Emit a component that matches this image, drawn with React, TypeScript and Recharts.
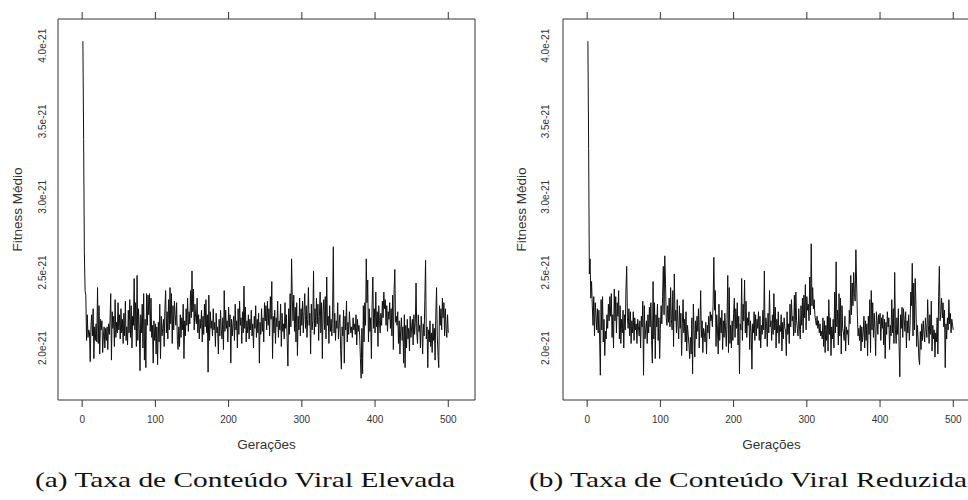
import { LineChart, Line, XAxis, YAxis, ReferenceLine } from "recharts";

// fitness médio por geração, em unidades de 1e-23
const fitElevada = [
  403, 338, 263, 238, 235, 205, 222, 207, 212, 210,
  191, 215, 222, 208, 226, 193, 214, 205, 216, 204,
  240, 203, 228, 196, 219, 212, 218, 197, 208, 214,
  200, 213, 205, 214, 199, 216, 209, 218, 236, 192,
  224, 213, 221, 201, 232, 207, 217, 210, 230, 212,
  222, 206, 226, 210, 219, 203, 223, 208, 231, 205,
  214, 202, 225, 210, 232, 207, 228, 200, 221, 215,
  246, 212, 230, 201, 248, 205, 226, 213, 185, 222,
  210, 229, 200, 236, 192, 219, 187, 236, 215, 235,
  222, 236, 211, 233, 207, 215, 190, 218, 205, 216,
  196, 214, 189, 217, 204, 229, 193, 221, 208, 213,
  219, 201, 226, 238, 210, 224, 206, 232, 212, 240,
  216, 236, 203, 228, 212, 231, 222, 215, 230, 205,
  199, 214, 201, 222, 207, 220, 212, 229, 193, 218,
  208, 226, 215, 233, 211, 224, 216, 238, 220, 251,
  224, 239, 212, 229, 220, 216, 233, 210, 222, 206,
  219, 213, 225, 204, 221, 209, 229, 214, 232, 210,
  222, 184, 235, 205, 224, 213, 218, 208, 226, 212,
  217, 201, 223, 210, 214, 196, 219, 208, 225, 212,
  206, 220, 199, 238, 211, 225, 213, 218, 204, 227,
  214, 222, 190, 219, 208, 216, 221, 205, 229, 212,
  218, 200, 226, 209, 231, 215, 220, 203, 224, 210,
  241, 213, 227, 204, 218, 210, 222, 206, 219, 212,
  225, 208, 216, 200, 221, 213, 228, 207, 219, 210,
  223, 190, 217, 209, 226, 211, 220, 204, 230, 218,
  228, 212, 231, 215, 226, 208, 234, 219, 244, 193,
  221, 210, 225, 203, 220, 214, 231, 207, 218, 212,
  229, 201, 223, 211, 216, 206, 230, 213, 222, 205,
  188, 226, 209, 236, 214, 259, 232, 218, 235, 211,
  227, 204, 230, 195, 221, 212, 233, 208, 226, 215,
  231, 210, 224, 236, 213, 228, 207, 219, 240, 215,
  223, 196, 229, 212, 218, 251, 209, 226, 214, 233,
  216, 229, 205, 221, 237, 210, 230, 193, 224, 232,
  212, 234, 206, 247, 215, 221, 203, 228, 211, 219,
  208, 225, 267, 210, 223, 205, 218, 213, 230, 206,
  216, 222, 199, 186, 214, 208, 225, 190, 221, 212,
  231, 204, 217, 209, 224, 215, 210, 214, 207, 220,
  212, 216, 209, 222, 202, 219, 211, 215, 208, 193,
  180, 213, 183, 228, 204, 230, 215, 259, 230, 245,
  204, 226, 211, 220, 193, 229, 247, 213, 226, 210,
  237, 214, 224, 201, 228, 218, 210, 223, 215, 231,
  220, 237, 226, 232, 215, 228, 211, 224, 219, 230,
  213, 226, 208, 235, 199, 238, 252, 217, 221, 215,
  224, 203, 218, 196, 212, 220, 205, 214, 190, 222,
  187, 215, 200, 219, 206, 213, 198, 221, 207, 214,
  219, 202, 222, 209, 217, 243, 210, 203, 222, 211,
  215, 200, 221, 213, 196, 216, 208, 232, 258, 206,
  214, 187, 212, 204, 218, 201, 210, 197, 216, 205,
  213, 192, 222, 240, 208, 195, 187, 228, 215, 226,
  212, 233, 220, 230, 208, 226, 213, 207, 222, 210,
];

const fitReduzida = [
  403, 332, 249, 259, 233, 244, 228, 215, 234, 208,
  230, 222, 212, 226, 210, 225, 206, 182, 232, 212,
  234, 204, 219, 195, 211, 206, 222, 213, 229, 218,
  234, 221, 236, 207, 222, 200, 239, 218, 234, 210,
  230, 221, 238, 206, 228, 203, 219, 210, 225, 200,
  222, 212, 239, 254, 220, 213, 226, 208, 224, 203,
  218, 210, 224, 205, 220, 212, 216, 203, 219, 214,
  208, 218, 200, 221, 214, 231, 182, 228, 206, 212,
  218, 203, 222, 210, 227, 214, 230, 205, 190, 244,
  206, 230, 193, 222, 214, 229, 205, 220, 193, 213,
  228, 216, 234, 254, 222, 261, 243, 220, 215, 228,
  217, 233, 214, 240, 219, 212, 238, 201, 249, 218,
  225, 210, 232, 215, 206, 228, 213, 223, 195, 216,
  232, 210, 219, 204, 224, 198, 215, 209, 202, 193,
  207, 196, 220, 183, 229, 212, 194, 218, 206, 221,
  211, 226, 200, 215, 238, 207, 218, 197, 213, 210,
  204, 217, 196, 215, 210, 221, 206, 224, 218, 222,
  214, 229, 260, 225, 238, 201, 222, 212, 196, 229,
  205, 220, 210, 225, 199, 218, 207, 223, 212, 201,
  219, 248, 197, 240, 203, 215, 200, 218, 205, 223,
  233, 207, 226, 213, 230, 202, 221, 183, 216, 212,
  246, 205, 229, 218, 245, 210, 231, 207, 220, 215,
  224, 199, 218, 211, 186, 216, 210, 224, 205, 222,
  208, 219, 213, 224, 205, 221, 200, 215, 209, 225,
  212, 251, 206, 220, 216, 201, 223, 210, 238, 214,
  218, 205, 222, 209, 236, 212, 227, 200, 219, 210,
  224, 203, 215, 211, 222, 198, 217, 206, 220, 213,
  212, 195, 224, 209, 216, 203, 229, 214, 232, 218,
  221, 208, 235, 210, 237, 218, 213, 208, 226, 214,
  206, 228, 215, 233, 210, 235, 220, 242, 212, 234,
  225, 229, 218, 247, 222, 269, 228, 240, 226, 232,
  222, 218, 215, 221, 213, 218, 210, 216, 208, 211,
  206, 220, 201, 218, 197, 215, 205, 221, 198, 232,
  209, 220, 195, 214, 206, 219, 200, 237, 210, 257,
  214, 225, 202, 236, 208, 233, 196, 228, 213, 210,
  205, 221, 198, 214, 209, 212, 202, 225, 216, 248,
  222, 243, 228, 250, 236, 231, 265, 243, 222, 208,
  213, 205, 215, 198, 214, 204, 210, 221, 200, 218,
  205, 216, 195, 221, 209, 232, 197, 238, 212, 230,
  207, 223, 213, 195, 224, 218, 209, 222, 216, 223,
  205, 220, 213, 222, 202, 219, 193, 217, 209, 224,
  214, 220, 199, 215, 208, 232, 210, 226, 203, 250,
  212, 203, 220, 209, 226, 201, 181, 222, 213, 227,
  207, 226, 219, 211, 224, 200, 218, 210, 222, 205,
  215, 237, 228, 256, 208, 243, 212, 246, 229, 201,
  215, 206, 193, 189, 211, 199, 216, 205, 218, 210,
  204, 220, 212, 207, 232, 215, 203, 222, 209, 231,
  198, 215, 206, 212, 194, 210, 204, 220, 196, 234,
  254, 218, 224, 233, 220, 230, 214, 225, 187, 216,
  206, 220, 212, 232, 216, 223, 210, 219, 215, 212,
];

const xTicks = [0, 100, 200, 300, 400, 500];
const yTicks = [2.0, 2.5, 3.0, 3.5, 4.0];
const xDomain = [-33, 536.5];
const yDomain = [1.656, 4.177];

const captions = [
  "(a) Taxa de Conteúdo Viral Elevada",
  "(b) Taxa de Conteúdo Viral Reduzida",
];

const toRows = (vals: number[]) => vals.map((v, i) => ({ gen: i + 1, fit: v / 100 }));

const sans = "'Liberation Sans', Arial, sans-serif";
const boxColor = "#333";

function YTick(props: any) {
  const { x, y, payload, gap } = props;
  const tx = x - gap;
  return (
    <text
      x={tx}
      y={y}
      transform={`rotate(-90, ${tx}, ${y})`}
      textAnchor="middle"
      dominantBaseline="central"
      fontSize={10}
      fontFamily={sans}
      fill="#333"
    >
      {`${payload.value.toFixed(1)}e-21`}
    </text>
  );
}

function Panel({ vals, yAxisW, labelGap, titleX, rightEdge }: { vals: number[]; yAxisW: number; labelGap: number; titleX: number; rightEdge: boolean }) {
  const data = toRows(vals);
  return (
    <LineChart width={yAxisW + 417 + 9} height={460} data={data} margin={{ top: 12, right: 9, bottom: 0, left: 0 }}>
      <XAxis
        xAxisId="top"
        orientation="top"
        dataKey="gen"
        type="number"
        domain={xDomain}
        ticks={xTicks}
        height={7}
        tickSize={7}
        axisLine={false}
        tickLine={{ stroke: boxColor }}
        tick={() => <g />}
      />
      <XAxis
        dataKey="gen"
        type="number"
        domain={xDomain}
        ticks={xTicks}
        height={60}
        tickSize={7}
        tickMargin={9}
        axisLine={false}
        tickLine={{ stroke: boxColor }}
        tick={{ fontSize: 10, fontFamily: sans, fill: "#333" }}
        label={{ value: "Gerações", position: "insideBottom", offset: 11, fontSize: 13.5, fontFamily: sans, fill: "#333" }}
      />
      <YAxis
        type="number"
        domain={yDomain}
        ticks={yTicks}
        width={yAxisW}
        tickSize={0}
        tickMargin={0}
        axisLine={false}
        tickLine={false}
        tick={(p: any) => <YTick {...p} gap={labelGap} />}
        label={{
          value: "Fitness Médio",
          angle: -90,
          position: "insideLeft",
          offset: titleX,
          style: { textAnchor: "middle" },
          fontSize: 13.5,
          fontFamily: sans,
          fill: "#333",
        }}
      />
      <ReferenceLine y={yDomain[1]} stroke={boxColor} />
      <ReferenceLine y={yDomain[0]} stroke={boxColor} />
      <ReferenceLine x={xDomain[0]} stroke={boxColor} />
      {rightEdge && <ReferenceLine x={xDomain[1]} stroke={boxColor} />}
      <Line type="linear" dataKey="fit" stroke="#111" strokeWidth={1} dot={false} isAnimationActive={false} />
    </LineChart>
  );
}

export default function App() {
  return (
    <div style={{ position: "fixed", left: 0, top: 0, width: 968, height: 500, overflow: "hidden", background: "#fff" }}>
      <div style={{ position: "absolute", left: 0, top: 0 }}>
        <Panel vals={fitElevada} yAxisW={58} labelGap={15} titleX={17} rightEdge={true} />
      </div>
      <div style={{ position: "absolute", left: 484, top: 0, width: 505 }}>
        <Panel vals={fitReduzida} yAxisW={79} labelGap={17} titleX={37} rightEdge={false} />
      </div>
      <svg width={968} height={500} style={{ position: "absolute", left: 0, top: 0, pointerEvents: "none" }}>
        <text x={35} y={487} fontSize={22} fontFamily="'Liberation Serif', 'DejaVu Serif', serif" fill="#111" textLength={420} lengthAdjust="spacingAndGlyphs">
          {captions[0]}
        </text>
        <text x={529} y={487} fontSize={22} fontFamily="'Liberation Serif', 'DejaVu Serif', serif" fill="#111" textLength={438} lengthAdjust="spacingAndGlyphs">
          {captions[1]}
        </text>
      </svg>
    </div>
  );
}
